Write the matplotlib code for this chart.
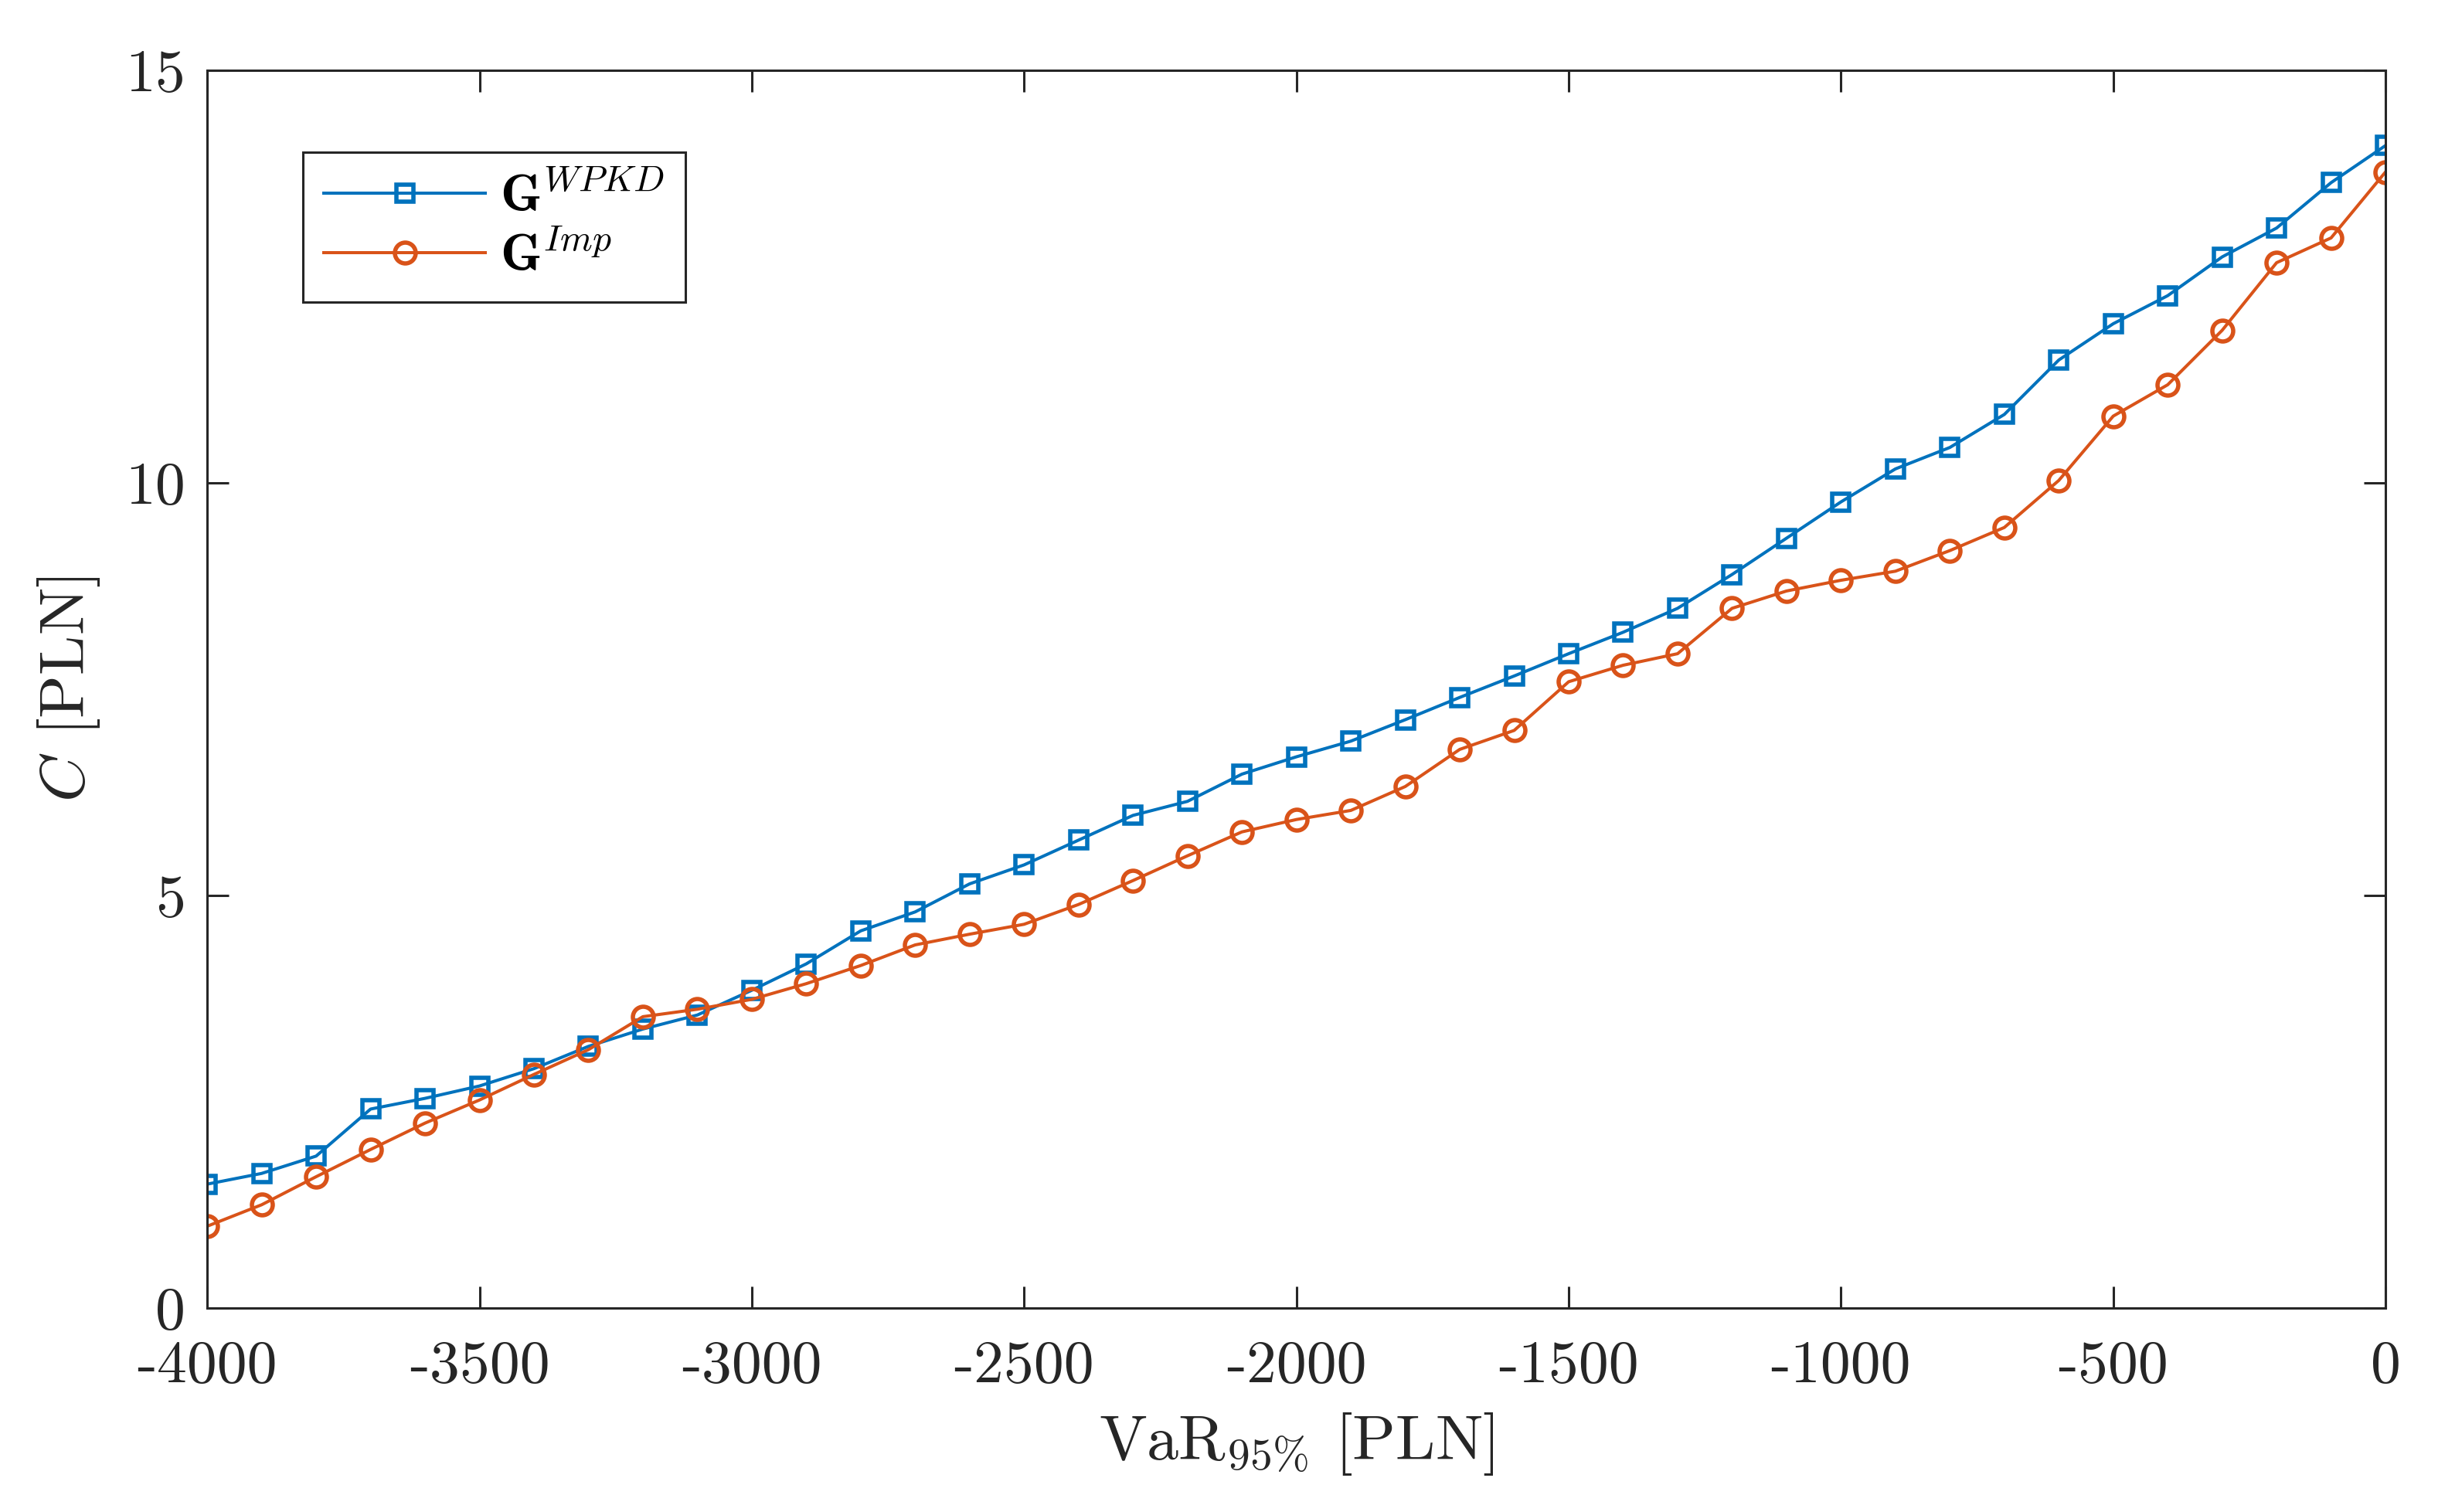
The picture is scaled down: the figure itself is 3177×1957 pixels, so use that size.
import matplotlib
matplotlib.use("Agg")
import matplotlib.pyplot as plt

plt.rcParams['font.family'] = 'serif'
plt.rcParams['font.serif'] = ['cmr10']
plt.rcParams['mathtext.fontset'] = 'cm'
plt.rcParams['axes.unicode_minus'] = False
plt.rcParams['axes.formatter.use_mathtext'] = True

var95 = [-4000, -3900, -3800, -3700, -3600, -3500, -3400, -3300, -3200, -3100,
         -3000, -2900, -2800, -2700, -2600, -2500, -2400, -2300, -2200, -2100,
         -2000, -1900, -1800, -1700, -1600, -1500, -1400, -1300, -1200, -1100,
         -1000, -900, -800, -700, -600, -500, -400, -300, -200, -100, 0]

c_wpkd = [1.50, 1.63, 1.84, 2.41, 2.54, 2.69, 2.90, 3.17, 3.38, 3.55,
          3.85, 4.17, 4.57, 4.80, 5.14, 5.37, 5.67, 5.97, 6.14, 6.47,
          6.68, 6.87, 7.13, 7.40, 7.66, 7.93, 8.19, 8.48, 8.89, 9.33,
          9.77, 10.17, 10.43, 10.83, 11.49, 11.93, 12.27, 12.74, 13.09, 13.64, 14.09]

c_imp = [0.99, 1.25, 1.59, 1.92, 2.24, 2.52, 2.83, 3.13, 3.53, 3.62,
         3.74, 3.93, 4.15, 4.40, 4.53, 4.65, 4.89, 5.18, 5.48, 5.77,
         5.92, 6.03, 6.32, 6.77, 7.00, 7.59, 7.79, 7.93, 8.48, 8.69,
         8.82, 8.93, 9.18, 9.46, 10.03, 10.81, 11.19, 11.85, 12.67, 12.97, 13.77]

labels = [r'$\mathbf{G}^{WPKD}$', r'$\mathbf{G}^{Imp}$']
xticks = [-4000, -3500, -3000, -2500, -2000, -1500, -1000, -500, 0]
yticks = [0, 5, 10, 15]

axcol = '#262626'
blue = '#0072BD'
orange = '#D95319'

fig = plt.figure(figsize=(15.885, 9.785), dpi=200)
ax = fig.add_axes([0.0844, 0.135, 0.8873, 0.8184])

ax.plot(var95, c_wpkd, color=blue, lw=1.45, marker='s', ms=7.6,
        mfc='none', mec=blue, mew=2.0, label=labels[0])
ax.plot(var95, c_imp, color=orange, lw=1.45, marker='o', ms=9.7,
        mfc='none', mec=orange, mew=2.0, label=labels[1])

ax.set_xlim(-4000, 0)
ax.set_ylim(0, 15)
ax.set_xticks(xticks)
ax.set_yticks(yticks)
ax.set_xticklabels([str(t) for t in xticks])
ax.set_yticklabels([str(t) for t in yticks])
ax.tick_params(direction='in', length=10, width=1.1, colors=axcol,
               labelsize=28, top=True, right=True)
ax.tick_params(axis='x', pad=15)
ax.tick_params(axis='y', pad=10)
for s in ax.spines.values():
    s.set_color(axcol)
    s.set_linewidth(1.1)

ax.set_xlabel(r'VaR$_{95\%}$ [PLN]', fontsize=29.6, color=axcol, labelpad=8)
ax.set_ylabel(r'$C$ [PLN]', fontsize=29.6, color=axcol, labelpad=11)

leg = ax.legend(loc='upper left', bbox_to_anchor=(0.044, 0.934), borderaxespad=0,
                fontsize=24.5, frameon=True, fancybox=False, framealpha=1,
                handlelength=3.07, handletextpad=0.27, borderpad=0.4,
                labelspacing=0.2)
leg.get_frame().set_edgecolor(axcol)
leg.get_frame().set_linewidth(1.1)

fig.savefig('out.png', dpi=200)
